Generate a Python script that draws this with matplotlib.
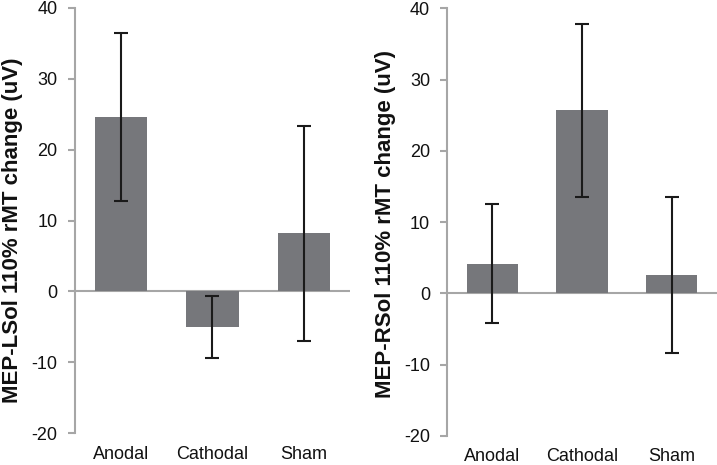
import numpy as np
import matplotlib
matplotlib.use('Agg')
import matplotlib.pyplot as plt

plt.rcParams['font.family'] = ['Liberation Sans', 'DejaVu Sans']
plt.rcParams['axes.unicode_minus'] = False

groups = ['Anodal', 'Cathodal', 'Sham']
left_means = [24.6, -5.0, 8.2]
left_err = [11.8, 4.4, 15.2]
right_means = [4.2, 25.7, 2.6]
right_err = [8.3, 12.1, 11.0]
ylabels = ['MEP-LSol 110% rMT change (uV)', 'MEP-RSol 110% rMT change (uV)']

bar_color = '#76777b'
axis_color = '#a6a6a6'

fig = plt.figure(figsize=(7.17, 4.65), dpi=100)
ax1 = fig.add_axes([0.1046, 0.0688, 0.3834, 0.914])
ax2 = fig.add_axes([0.6239, 0.0624, 0.3757, 0.9196])

x = np.arange(len(groups))
for ax, means, err, lab, lx, ly in [(ax1, left_means, left_err, ylabels[0], -0.19, 0.478),
                                    (ax2, right_means, right_err, ylabels[1], -0.192, 0.495)]:
    ax.bar(x, means, 0.57, color=bar_color, zorder=2)
    ax.errorbar(x, means, yerr=err, fmt='none', ecolor='#1a1a1a',
                elinewidth=1.5, capsize=4.8, capthick=1.5, zorder=3)
    ax.axhline(0, color=axis_color, lw=1.5, zorder=1)
    ax.set_xlim(-0.5, 2.5)
    ax.set_ylim(-20, 40)
    ax.set_yticks(range(-20, 41, 10))
    ax.set_xticks(x, groups)
    for s in ['top', 'right', 'bottom']:
        ax.spines[s].set_visible(False)
    ax.spines['left'].set_color(axis_color)
    ax.spines['left'].set_linewidth(1.5)
    ax.tick_params(axis='y', color=axis_color, width=1.5, length=5,
                   labelsize=13, labelcolor='#111111', pad=7.5)
    ax.tick_params(axis='x', length=0, labelsize=13, labelcolor='#111111', pad=9)
    ax.set_ylabel(lab, fontsize=16, fontweight='bold', color='#111111')
    ax.yaxis.set_label_coords(lx, ly)

fig.savefig('out.png', dpi=100)
